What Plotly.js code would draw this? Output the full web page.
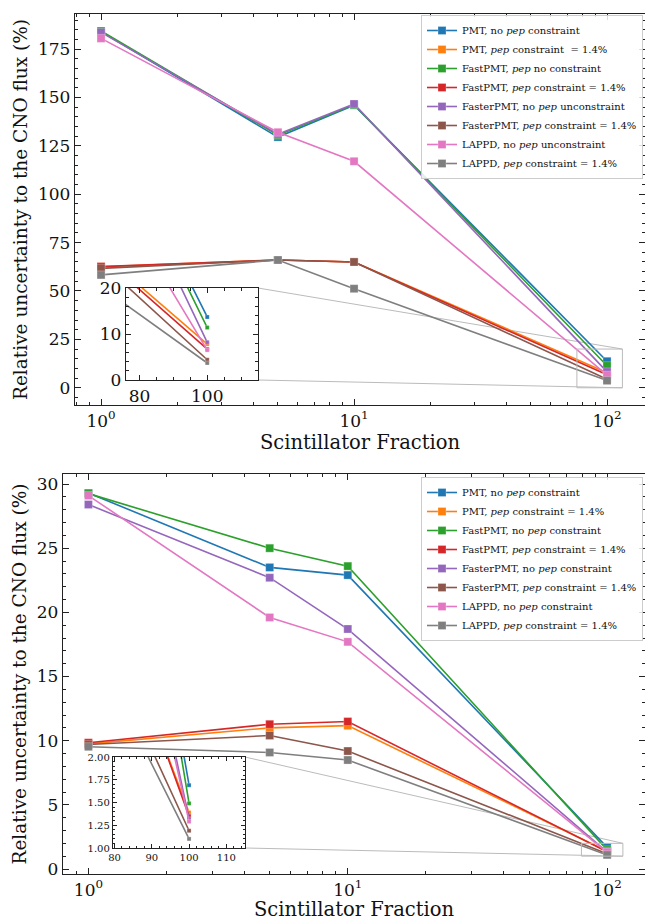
<!DOCTYPE html>
<html>
<head>
<meta charset="utf-8">
<script src="https://cdn.plot.ly/plotly-3.0.1.min.js"></script>
<style>html,body{margin:0;padding:0;background:#fff;}#chart{width:645px;height:921px;}</style>
</head>
<body>
<div id="chart"></div>
<script>
// ---------- data ----------
const scintFraction = [1, 5, 10, 100];

const seriesColors = ["#1f77b4", "#ff7f0e", "#2ca02c", "#d62728", "#9467bd", "#8c564b", "#e377c2", "#7f7f7f"];

const topLabels = [
  "PMT, no <i>pep</i> constraint",
  "PMT, <i>pep</i> constraint  = 1.4%",
  "FastPMT, <i>pep</i> no constraint",
  "FastPMT, <i>pep</i> constraint = 1.4%",
  "FasterPMT, no <i>pep</i> unconstraint",
  "FasterPMT, <i>pep</i> constraint = 1.4%",
  "LAPPD, no <i>pep</i> unconstraint",
  "LAPPD, <i>pep</i> constraint = 1.4%"
];
const bottomLabels = [
  "PMT, no <i>pep</i> constraint",
  "PMT, <i>pep</i> constraint = 1.4%",
  "FastPMT, no <i>pep</i> constraint",
  "FastPMT, <i>pep</i> constraint = 1.4%",
  "FasterPMT, no <i>pep</i> constraint",
  "FasterPMT, <i>pep</i> constraint = 1.4%",
  "LAPPD, no <i>pep</i> constraint",
  "LAPPD, <i>pep</i> constraint = 1.4%"
];

// top panel values (%)
const topPmtNoPep      = [184.0, 129.5, 146.0, 13.7];
const topPmtPep        = [62.5, 66.0, 65.0, 7.8];
const topFastNoPep     = [184.3, 130.5, 146.2, 11.4];
const topFastPep       = [62.6, 66.0, 65.0, 6.7];
const topFasterNoPep   = [183.6, 131.0, 146.6, 8.2];
const topFasterPep     = [61.7, 66.0, 65.0, 4.4];
const topLappdNoPep    = [180.5, 132.0, 117.0, 6.5];
const topLappdPep      = [58.3, 66.0, 51.2, 3.7];

// bottom panel values (%)
const botPmtNoPep      = [29.3, 23.5, 22.9, 1.69];
const botPmtPep        = [9.75, 11.0, 11.17, 1.39];
const botFastNoPep     = [29.25, 25.0, 23.6, 1.49];
const botFastPep       = [9.84, 11.28, 11.49, 1.35];
const botFasterNoPep   = [28.4, 22.7, 18.7, 1.32];
const botFasterPep     = [9.7, 10.4, 9.19, 1.19];
const botLappdNoPep    = [29.1, 19.6, 17.7, 1.29];
const botLappdPep      = [9.53, 9.08, 8.49, 1.10];

const topSeries = [topPmtNoPep, topPmtPep, topFastNoPep, topFastPep, topFasterNoPep, topFasterPep, topLappdNoPep, topLappdPep];
const botSeries = [botPmtNoPep, botPmtPep, botFastNoPep, botFastPep, botFasterNoPep, botFasterPep, botLappdNoPep, botLappdPep];

const logTickVals = [1, 10, 100];
const logTickText = ["10<sup>0</sup>", "10<sup>1</sup>", "10<sup>2</sup>"];
const logMinorVals = [0.8, 0.9, 2, 3, 4, 5, 6, 7, 8, 9, 20, 30, 40, 50, 60, 70, 80, 90, 200];

// ---------- layout geometry ----------
const W = 645, H = 921;
const FONT = "DejaVu Serif";

const topMain = {xd: [75 / W, 1], yd: [1 - 405 / H, 1 - 14 / H], xr: [-0.103, 2.150], yr: [-8.9, 193.1]};
const topIns  = {xd: [126 / W, 258 / W], yd: [1 - 380 / H, 1 - 288 / H], xr: [76, 115], yr: [0, 20]};
const botMain = {xd: [63 / W, 1], yd: [1 - 874 / H, 1 - 474 / H], xr: [-0.098, 2.146], yr: [-0.39, 30.78]};
const botIns  = {xd: [113 / W, 245 / W], yd: [1 - 848 / H, 1 - 757 / H], xr: [79.6, 115], yr: [1, 2]};

function paperX(ax, v) { // log main axis
  return ax.xd[0] + (Math.log10(v) - ax.xr[0]) / (ax.xr[1] - ax.xr[0]) * (ax.xd[1] - ax.xd[0]);
}
function paperY(ax, v) {
  return ax.yd[0] + (v - ax.yr[0]) / (ax.yr[1] - ax.yr[0]) * (ax.yd[1] - ax.yd[0]);
}

// ---------- traces ----------
const traces = [];
function addTraces(series, labels, xa, ya, legendName, showLeg, msize) {
  series.forEach((ys, i) => {
    traces.push({
      type: "scatter", mode: "lines+markers",
      x: scintFraction, y: ys,
      name: labels[i],
      xaxis: xa, yaxis: ya,
      legend: legendName,
      showlegend: showLeg,
      line: {color: seriesColors[i], width: 1.6},
      marker: {symbol: "square", size: msize, color: seriesColors[i],
               line: {color: "rgba(255,255,255,0.5)", width: 0.5}},
      cliponaxis: true
    });
  });
}
addTraces(topSeries, topLabels, "x", "y", "legend", true, 8);
addTraces(topSeries, topLabels, "x2", "y2", "legend", false, 4);
addTraces(botSeries, bottomLabels, "x3", "y3", "legend2", true, 8);
addTraces(botSeries, bottomLabels, "x4", "y4", "legend2", false, 4);

// ---------- axes ----------
const axisBase = {
  showline: true, linecolor: "#222", linewidth: 1.2, mirror: "ticks",
  ticks: "inside", ticklen: 6, tickwidth: 1, tickcolor: "#222",
  showgrid: false, zeroline: false, automargin: false,
  tickfont: {family: FONT, size: 17, color: "#111"}
};
function logX(ax, anchor) {
  return Object.assign({}, axisBase, {
    type: "log", domain: ax.xd, range: ax.xr, anchor: anchor,
    tickmode: "array", tickvals: logTickVals, ticktext: logTickText,
    minor: {ticks: "inside", ticklen: 3, tickcolor: "#222", tickmode: "array", tickvals: logMinorVals},
    title: {text: "Scintillator Fraction", font: {family: FONT, size: 19.5, color: "#111"}, standoff: 4}
  });
}
function linY(ax, anchor, dtick, minorDtick) {
  return Object.assign({}, axisBase, {
    domain: ax.yd, range: ax.yr, anchor: anchor, dtick: dtick, tick0: 0,
    minor: {ticks: "inside", ticklen: 3, tickcolor: "#222", dtick: minorDtick},
    title: {text: "Relative uncertainty to the CNO flux (%)", font: {family: FONT, size: 18.5, color: "#111"}, standoff: 5}
  });
}

const legendBase = {
  xanchor: "left", yanchor: "top",
  bgcolor: "rgba(255,255,255,0.85)", bordercolor: "#cccccc", borderwidth: 1,
  font: {family: FONT, size: 10, color: "#111"}, itemwidth: 30, tracegroupgap: 0
};

const layout = {
  width: W, height: H,
  margin: {l: 0, r: 0, t: 0, b: 0, pad: 0, autoexpand: false},
  paper_bgcolor: "#ffffff", plot_bgcolor: "#ffffff",
  font: {family: FONT, color: "#111"},
  xaxis: logX(topMain, "y"),
  yaxis: linY(topMain, "x", 25, 5),
  xaxis2: Object.assign({}, axisBase, {domain: topIns.xd, range: topIns.xr, anchor: "y2", dtick: 20, tick0: 0, ticklen: 5,
    minor: {ticks: "inside", ticklen: 3, tickcolor: "#222", dtick: 5}, tickfont: {family: FONT, size: 17, color: "#111"}}),
  yaxis2: Object.assign({}, axisBase, {domain: topIns.yd, range: topIns.yr, anchor: "x2", dtick: 10, tick0: 0, ticklen: 5,
    minor: {ticks: "inside", ticklen: 3, tickcolor: "#222", dtick: 2}, tickfont: {family: FONT, size: 17, color: "#111"}}),
  xaxis3: logX(botMain, "y3"),
  yaxis3: linY(botMain, "x3", 5, 1),
  xaxis4: Object.assign({}, axisBase, {domain: botIns.xd, range: botIns.xr, anchor: "y4", dtick: 10, tick0: 0, ticklen: 4,
    minor: {ticks: "inside", ticklen: 2, tickcolor: "#222", dtick: 2}, tickfont: {family: FONT, size: 10, color: "#111"}}),
  yaxis4: Object.assign({}, axisBase, {domain: botIns.yd, range: botIns.yr, anchor: "x4", dtick: 0.25, tick0: 0, ticklen: 4,
    tickformat: ".2f",
    minor: {ticks: "inside", ticklen: 2, tickcolor: "#222", dtick: 0.05}, tickfont: {family: FONT, size: 10, color: "#111"}}),
  legend: Object.assign({}, legendBase, {x: 421 / W, y: 1 - 15 / H}),
  legend2: Object.assign({}, legendBase, {x: 421 / W, y: 1 - 477 / H}),
  shapes: []
};

// inset indicator rectangles and connectors
const grayLine = {color: "#bbbbbb", width: 1};
function addZoomMarks(main, ins, xref, yref) {
  layout.shapes.push({type: "rect", xref: xref, yref: yref, x0: ins.xr[0], x1: ins.xr[1], y0: ins.yr[0], y1: ins.yr[1],
    line: grayLine, fillcolor: "rgba(0,0,0,0)", layer: "above"});
  const rx = paperX(main, ins.xr[1]);
  const ryTop = paperY(main, ins.yr[1]);
  const ryBot = paperY(main, ins.yr[0]);
  layout.shapes.push({type: "line", xref: "paper", yref: "paper", x0: ins.xd[1], y0: ins.yd[1], x1: rx, y1: ryTop, line: grayLine, layer: "below"});
  layout.shapes.push({type: "line", xref: "paper", yref: "paper", x0: ins.xd[1], y0: ins.yd[0], x1: rx, y1: ryBot, line: grayLine, layer: "below"});
}
addZoomMarks(topMain, topIns, "x", "y");
addZoomMarks(botMain, botIns, "x3", "y3");

Plotly.newPlot("chart", traces, layout, {staticPlot: true, displayModeBar: false});
</script>
</body>
</html>
